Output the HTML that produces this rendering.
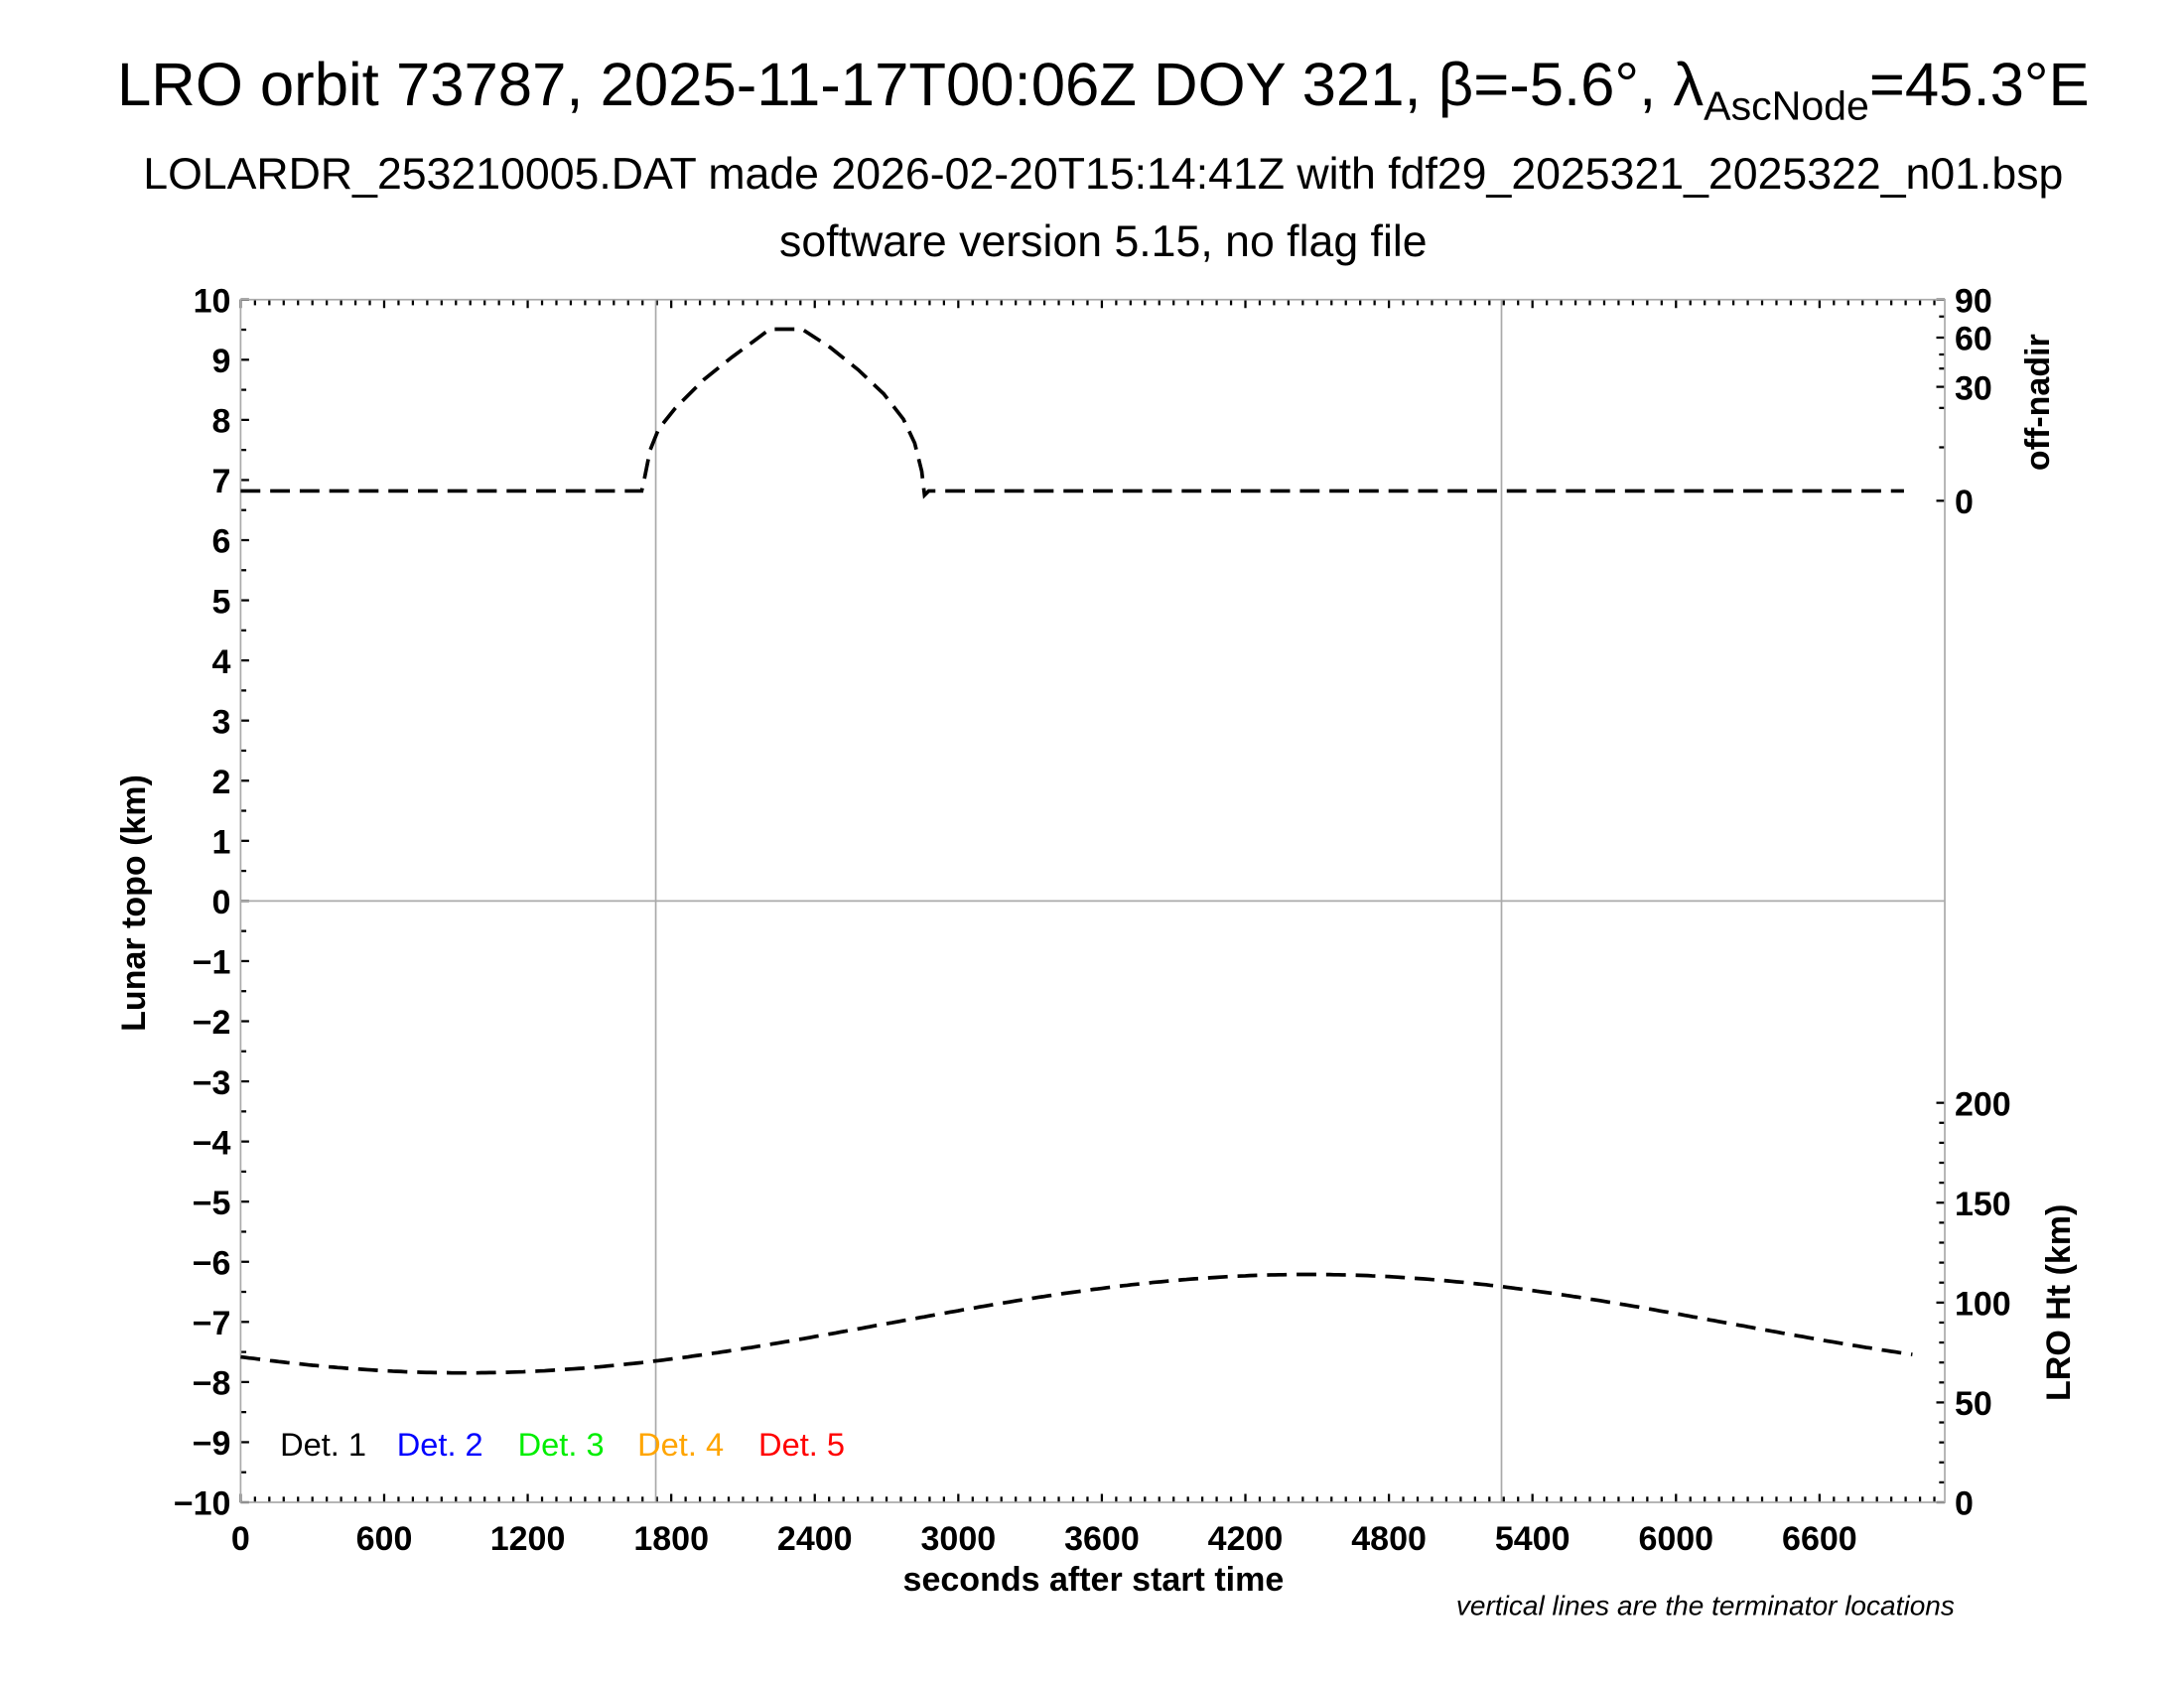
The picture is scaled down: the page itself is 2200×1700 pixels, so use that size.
<!DOCTYPE html>
<html><head><meta charset="utf-8"><style>
html,body{margin:0;padding:0;background:#fff;}
svg{display:block;}
text{font-family:"Liberation Sans",sans-serif;}
.t{font-weight:bold;font-size:24px;}
</style></head><body>
<svg id="s" width="2200" height="1700" viewBox="0 0 1552 1200" preserveAspectRatio="none" xmlns="http://www.w3.org/2000/svg">
<rect width="1552" height="1200" fill="#fff"/>
<text x="784" y="75" font-size="43.5" text-anchor="middle">LRO orbit 73787, 2025-11-17T00:06Z DOY 321, β=-5.6°, λ<tspan font-size="29" dy="10">AscNode</tspan><tspan dy="-10">=45.3°E</tspan></text>
<text x="784" y="134" font-size="31.5" text-anchor="middle">LOLARDR_253210005.DAT made 2026-02-20T15:14:41Z with fdf29_2025321_2025322_n01.bsp</text>
<text x="784" y="182" font-size="31.5" text-anchor="middle">software version 5.15, no flag file</text>
<g id="g"></g>
<rect x="171" y="213" width="1211" height="855" fill="none" stroke="#aaa" stroke-width="1.2"/>
<line x1="466" y1="213" x2="466" y2="1068" stroke="#aaa" stroke-width="1.2"/>
<line x1="1067" y1="213" x2="1067" y2="1068" stroke="#aaa" stroke-width="1.2"/>
<line x1="171" y1="640.5" x2="1382" y2="640.5" stroke="#aaa" stroke-width="1.2"/>
<text x="777" y="1131" class="t" font-size="29.5" text-anchor="middle">seconds after start time</text>
<text x="1389" y="1148" font-size="19.8" font-style="italic" text-anchor="end">vertical lines are the terminator locations</text>
<text transform="translate(103,642) rotate(-90)" class="t" font-size="27" text-anchor="middle">Lunar topo (km)</text>
<text transform="translate(1456,286) rotate(-90)" class="t" font-size="27.5" text-anchor="middle">off-nadir</text>
<text transform="translate(1471,926) rotate(-90)" class="t" font-size="27" text-anchor="middle">LRO Ht (km)</text>
<text x="199" y="1035" font-size="23" fill="#000">Det. 1</text>
<text x="282" y="1035" font-size="23" fill="#0000ff">Det. 2</text>
<text x="368" y="1035" font-size="23" fill="#00ee00">Det. 3</text>
<text x="453" y="1035" font-size="23" fill="#ffa500">Det. 4</text>
<text x="539" y="1035" font-size="23" fill="#ff0000">Det. 5</text>
<path d="M171,349 L456,349 L458,340 L462,320 L468,305 L480,290 L500,270 L520,254 L535,243 L547,234 L570,234 L590,247 L610,263 L628,280 L642,298 L650,315 L655,335 L657,352 L660,349 L1353,349" fill="none" stroke="#000" stroke-width="2.6" stroke-dasharray="14,7"/>
<path id="ht" fill="none" stroke="#000" stroke-width="2.6" stroke-dasharray="14,7"/>
</svg>
<script>
var g=document.getElementById('g'),h='';
function L(a,b,c,d){h+='<line x1="'+a+'" y1="'+b+'" x2="'+c+'" y2="'+d+'" stroke="#000" stroke-width="1.6"/>';}
function T(x,y,s,anc){h+='<text class="t" x="'+x+'" y="'+y+'" text-anchor="'+anc+'">'+s+'</text>';}
for(var v=-10;v<=10;v+=0.5){var y=640.5-v*42.75;var maj=(v%1===0);L(171,y,171+(maj?6:4),y);
 if(maj)T(164,y+9,(v<0?'\u2212'+(-v):v),'end');}
for(var s=0;s<=7124;s+=60){var x=171+s*0.17;var maj=(s%600===0);L(x,1068,x,1068-(maj?6:4));L(x,213,x,213+(maj?6:4));
 if(maj&&s<=6600)T(x,1102,s,'middle');}
[[213,'90'],[240,'60'],[275,'30'],[356,'0']].forEach(function(p){L(1382,p[0],1376,p[0]);T(1389,p[0]+9,p[1],'start');});
[225,252,262,290,318].forEach(function(y){L(1382,y,1378,y);});
for(var k=0;k<=200;k+=10){var y=1068-k*1.42;var maj=(k%50===0);L(1382,y,1382-(maj?6:4),y);if(maj)T(1389,y+9,k,'start');}
g.innerHTML=h;
var d='';for(var x=171;x<=1360;x+=3){var y=941+35*Math.cos(2*Math.PI*(x-330)/1200);d+=(x==171?'M':'L')+x+','+y.toFixed(1);}
document.getElementById('ht').setAttribute('d',d);
</script>
</body></html>
